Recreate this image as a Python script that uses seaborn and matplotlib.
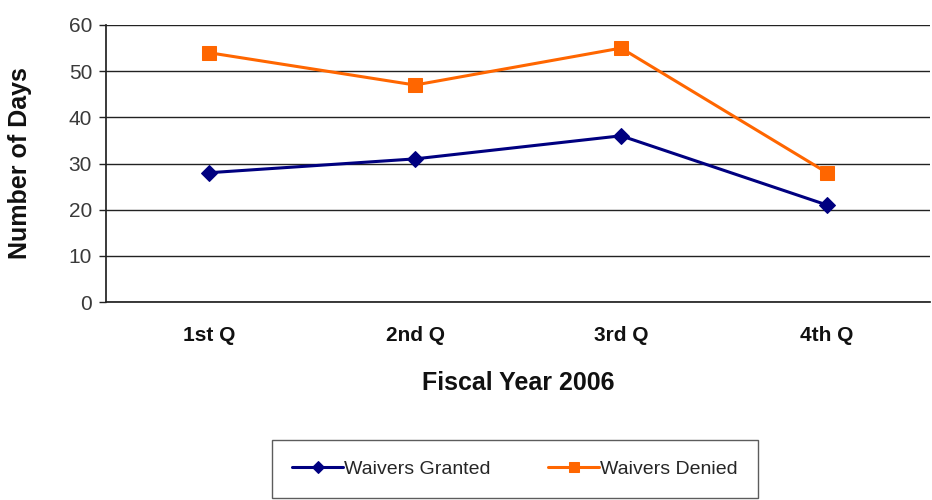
import matplotlib
matplotlib.use("Agg")
import matplotlib.pyplot as plt
import seaborn as sns
import pandas as pd
import numpy as np

quarters = ["1st Q", "2nd Q", "3rd Q", "4th Q"]
granted = [28, 31, 36, 21]
denied = [54, 47, 55, 28]
series_names = ["Waivers Granted", "Waivers Denied"]
y_ticks = [0, 10, 20, 30, 40, 50, 60]

sns.set_theme(style="white")
plt.rcParams["font.family"] = ["Liberation Sans", "DejaVu Sans"]

df = pd.DataFrame({
    "pos": list(range(len(quarters))) * 2,
    "days": granted + denied,
    "series": [series_names[0]] * len(quarters) + [series_names[1]] * len(quarters),
})

fig = plt.figure(figsize=(9.32, 5.0), dpi=100)
ax = fig.add_axes([0.1137, 0.396, 0.8843, 0.554])

palette = {series_names[0]: "#000080", series_names[1]: "#FF6600"}
markers = {series_names[0]: "D", series_names[1]: "s"}
sizes_m = {series_names[0]: 8.5, series_names[1]: 10.5}

for name in series_names:
    sub = df[df["series"] == name]
    sns.lineplot(data=sub, x="pos", y="days", ax=ax, color=palette[name],
                 marker=markers[name], markersize=sizes_m[name],
                 markeredgecolor=palette[name], linewidth=2.2, label=name,
                 legend=False, zorder=3)

ax.set_xlim(-0.5, len(quarters) - 0.5)
ax.set_ylim(0, 60)
ax.set_yticks(y_ticks)
ax.set_yticklabels([str(v) for v in y_ticks], fontsize=15, color="#3a3a3a")
ax.set_xticks(range(len(quarters)))
ax.set_xticklabels(quarters, fontsize=15, fontweight="bold", color="#111111")
ax.set_xticks(np.arange(-0.5, len(quarters), 1.0), minor=True)
ax.tick_params(axis="x", which="major", length=0, pad=17)
ax.tick_params(axis="x", which="minor", length=5, width=1, color="#222222", direction="out")
ax.tick_params(axis="y", length=5, width=1, color="#222222", direction="out", left=True, pad=5)

ax.yaxis.grid(True, color="#222222", linewidth=1.0)
ax.set_axisbelow(True)
for side in ["top", "right"]:
    ax.spines[side].set_visible(False)
ax.spines["left"].set_color("#222222")
ax.spines["bottom"].set_color("#222222")

ax.set_xlabel("Fiscal Year 2006", fontsize=18, fontweight="bold", color="#111111")
ax.xaxis.set_label_coords(0.5, -0.292)
ax.xaxis.label.set_va("center")
ax.set_ylabel("Number of Days", fontsize=18, fontweight="bold", color="#111111")
ax.yaxis.set_label_coords(-0.1044, 0.5)
ax.yaxis.label.set_va("center")

handles, labels = ax.get_legend_handles_labels()
leg = fig.legend(handles, labels, loc="upper left",
                 bbox_to_anchor=(272 / 932, 0.12, 486 / 932, 0),
                 mode="expand", ncol=2, frameon=True, fancybox=False,
                 edgecolor="#333333", fontsize=14, handlelength=2.6,
                 handletextpad=0.05, borderpad=1.05, borderaxespad=0,
                 columnspacing=2.5, markerscale=0.7)
leg.get_frame().set_linewidth(1.0)

fig.savefig("out.png", dpi=100)
